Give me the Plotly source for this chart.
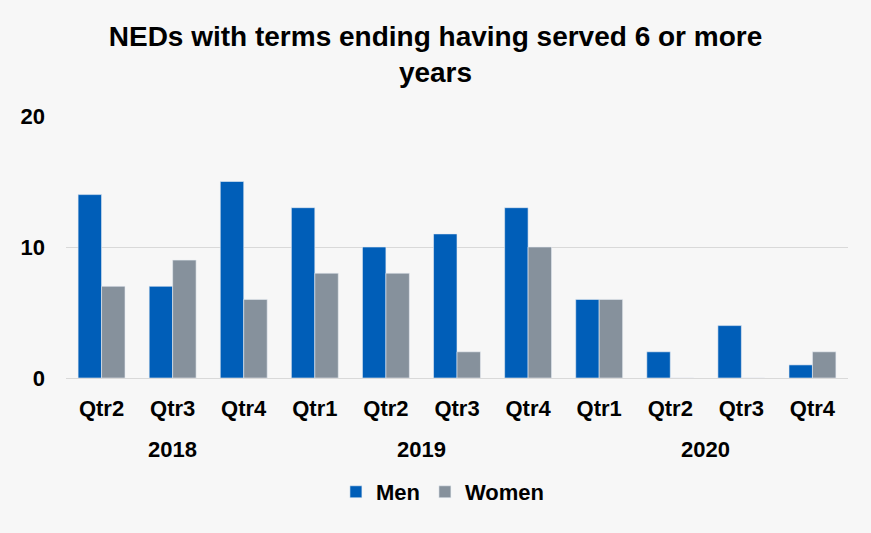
import plotly.graph_objects as go

years = ["2018", "2018", "2018", "2019", "2019", "2019", "2019", "2020", "2020", "2020", "2020"]
quarters = ["Qtr2", "Qtr3", "Qtr4", "Qtr1", "Qtr2", "Qtr3", "Qtr4", "Qtr1", "Qtr2", "Qtr3", "Qtr4"]
men = [14, 7, 15, 13, 10, 11, 13, 6, 2, 4, 1]
women = [7, 9, 6, 8, 8, 2, 10, 6, 0, 0, 2]

FONT = "Liberation Sans, Arial, sans-serif"
pos = list(range(len(quarters)))

fig = go.Figure()
fig.add_trace(go.Bar(x=pos, y=men, name="<b>Men</b>",
                     marker=dict(color="#005EB8", line=dict(color="#E8EDF3", width=0.6))))
fig.add_trace(go.Bar(x=pos, y=women, name="<b>Women</b>",
                     marker=dict(color="#86919C", line=dict(color="#E8EDF3", width=0.6))))

# year group labels centred under their quarters
for yr in dict.fromkeys(years):
    idx = [i for i, y in enumerate(years) if y == yr]
    fig.add_annotation(x=sum(idx) / len(idx), y=-0.271, xref="x", yref="paper",
                       text=f"<b>{yr}</b>", showarrow=False, yanchor="middle",
                       font=dict(family=FONT, size=22, color="#000000"))

fig.update_layout(
    width=871, height=533,
    paper_bgcolor="#F7F7F7", plot_bgcolor="#F7F7F7",
    margin=dict(l=66, r=23, t=116, b=155),
    barmode="group", bargap=0.34, bargroupgap=0,
    title=dict(text="<b>NEDs with terms ending having served 6 or more<br>years</b>",
               x=0.5, xanchor="center", y=0.914, yanchor="middle",
               font=dict(family=FONT, size=28, color="#000000")),
    font=dict(family=FONT, size=22, color="#000000"),
    showlegend=True,
    legend=dict(orientation="h", x=0.482, xanchor="center", y=-0.435, yanchor="middle",
                font=dict(family=FONT, size=22, color="#000000"),
                itemwidth=30, traceorder="normal"),
)
fig.update_xaxes(range=[-0.5, len(quarters) - 0.5], tickmode="array", tickvals=pos,
                 ticktext=[f"<b>{q}</b>" for q in quarters],
                 showgrid=False, showline=False, zeroline=False, ticks="",
                 ticklabelstandoff=15,
                 tickfont=dict(family=FONT, size=22, color="#000000"))
fig.update_yaxes(range=[0, 20], tickvals=[0, 10, 20],
                 ticktext=["<b>0</b>", "<b>10</b>", "<b>20</b>"],
                 showgrid=True, gridcolor="#D9D9D9", gridwidth=1, zeroline=True,
                 zerolinecolor="#D9D9D9", zerolinewidth=1, showline=False,
                 ticklabelstandoff=20,
                 tickfont=dict(family=FONT, size=22, color="#000000"))

fig.write_html("out.html", config={"displayModeBar": False},
               post_script="document.body.style.margin='0';")
